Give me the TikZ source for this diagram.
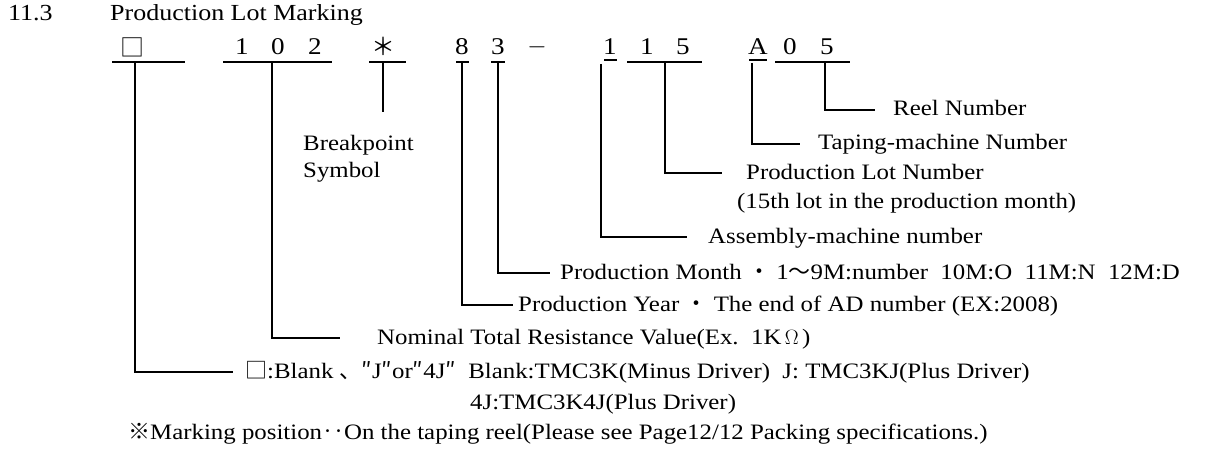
\documentclass[tikz,border=0pt]{standalone}
\usepackage{fontspec}
\setmainfont{Liberation Serif}[FakeStretch=1.13]
\newfontfamily\cjk{Noto Sans CJK JP}
\usetikzlibrary{positioning}

\tikzset{
  digit/.style={font=\fontsize{24}{28}\selectfont, inner sep=0pt},
  lbl/.style={anchor=west, font=\fontsize{22}{26}\selectfont, inner sep=0pt,
    text height=15pt, text depth=3pt},
  bar/.style={line width=2pt},
  lead/.style={line width=1.5pt},
}

\begin{document}
\begin{tikzpicture}[x=1pt,y=-1pt]
   \useasboundingbox (0,0) rectangle (1206,457);

   % heading
   \node[lbl,font=\fontsize{23}{27}\selectfont] (num) at (8,15) {11.3};
   \node[lbl,font=\fontsize{23}{27}\selectfont] (title) at (110,15) {Production Lot Marking};

   % the marking itself
   \node[digit] (sq) at (132,47) {{\cjk □}};
   \node[digit] (n1) at (242,47) {1};
   \node[digit] (n0) at (278,47) {0};
   \node[digit] (n2) at (315,47) {2};
   \node[digit] (ast) at (383,46) {{\cjk ＊}};
   \node[digit] (y8) at (462,47) {8};
   \node[digit] (m3) at (498,47) {3};
   \node[digit] (dash) at (537,47) {$-$};
   \node[digit] (a1) at (610,47) {1};
   \node[digit] (l1) at (647,47) {1};
   \node[digit] (l5) at (683,47) {5};
   \node[digit] (tA) at (758,47) {A};
   \node[digit] (r0) at (790,47) {0};
   \node[digit] (r5) at (827,47) {5};

   % underlines
   \draw[bar] (112,62) -- (185,62);
   \draw[bar] (223,62) -- (332,62);
   \draw[bar] (369,62) -- (406,62);
   \draw[bar] (456,62) -- (469,62);
   \draw[bar] (491,62) -- (505,62);
   \draw[bar] (604,60) -- (617,60);
   \draw[bar] (627,62) -- (702,62);
   \draw[bar] (749,60) -- (767,60);
   \draw[bar] (775,62) -- (850,62);

   \coordinate (sqt) at (135,62);
   \coordinate (rest) at (272,62);
   \coordinate (astt) at (383,62);
   \coordinate (yeart) at (462,62);
   \coordinate (montht) at (498,62);
   \coordinate (asmt) at (601,64);
   \coordinate (lott) at (665,62);
   \coordinate (tapet) at (752,63);
   \coordinate (reelt) at (825,62);
   \coordinate (astb) at (383,112);

   % explanations
   \node[lbl] (reel) at (893,110) {Reel Number};
   \node[lbl] (tape) at (818,144) {Taping-machine Number};
   \node[lbl] (lot) at (746,173) {Production Lot Number};
   \node[lbl] (lot2) at (737,202) {(15th lot in the production month)};
   \node[lbl] (asm) at (708,237) {Assembly-machine number};
   \node[lbl] (month) at (560,273) {Production Month {\cjk ・} 1{\cjk 〜}9M:number\ \ 10M:O\ \ 11M:N\ \ 12M:D};
   \node[lbl] (year) at (518,305) {Production Year {\cjk ・} The end of AD number (EX:2008)};
   \node[lbl] (res) at (377,338) {Nominal Total Resistance Value(Ex.\ \ 1K$\,\Omega\,$)};
   \node[lbl] (blank) at (245,372) {{\cjk □}:Blank {\cjk 、}{\cjk ″}J{\cjk ″}or{\cjk ″}4J{\cjk ″}\ \ Blank:TMC3K(Minus Driver)\ \ J: TMC3KJ(Plus Driver)};
   \node[lbl] (blank2) at (470,403) {4J:TMC3K4J(Plus Driver)};
   \node[lbl] (pos) at (128,433) {{\cjk ※}Marking position{\cjk ‥}On the taping reel(Please see Page12/12 Packing specifications.)};
   \node[lbl] (brk) at (303,145) {Breakpoint};
   \node[lbl] (sym) at (303,172) {Symbol};

   % leaders
   \draw[lead] (astt) -- (astb);
   \draw[lead] (reelt) |- ([xshift=-18]reel.west);
   \draw[lead] (tapet) |- ([xshift=-18]tape.west);
   \draw[lead] (lott) |- ([xshift=-24]lot.west);
   \draw[lead] (asmt) |- ([xshift=-21]asm.west);
   \draw[lead] (montht) |- ([xshift=-10]month.west);
   \draw[lead] (yeart) |- ([xshift=-5]year.west);
   \draw[lead] (rest) |- ([xshift=-37]res.west);
   \draw[lead] (sqt) |- ([xshift=-12]blank.west);
\end{tikzpicture}
\end{document}
